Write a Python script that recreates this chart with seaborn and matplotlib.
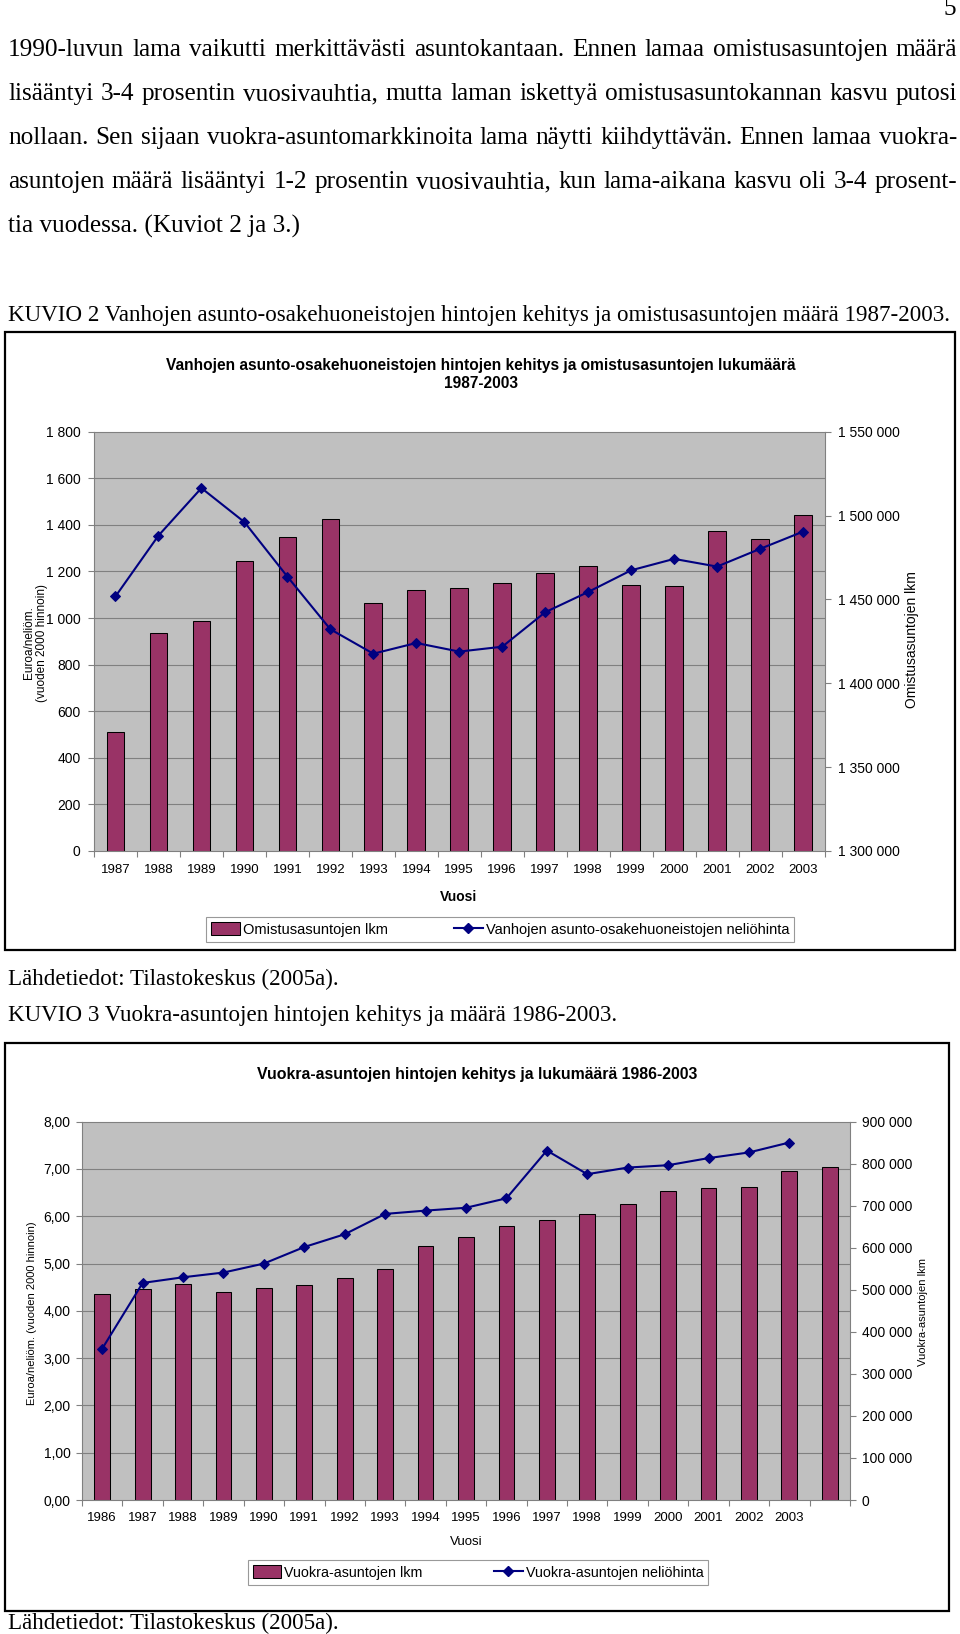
import matplotlib
matplotlib.use('Agg')
import matplotlib.pyplot as plt
import numpy as np
import seaborn as sns
from matplotlib.lines import Line2D
from matplotlib.patches import Patch, Rectangle

# Page text
page_no = '5'
body_lines = [
    '1990-luvun lama vaikutti merkittävästi asuntokantaan. Ennen lamaa omistusasuntojen määrä',
    'lisääntyi 3-4 prosentin vuosivauhtia, mutta laman iskettyä omistusasuntokannan kasvu putosi',
    'nollaan. Sen sijaan vuokra-asuntomarkkinoita lama näytti kiihdyttävän. Ennen lamaa vuokra-',
    'asuntojen määrä lisääntyi 1-2 prosentin vuosivauhtia, kun lama-aikana kasvu oli 3-4 prosent-',
]
body_last = 'tia vuodessa. (Kuviot 2 ja 3.)'
caption_2 = 'KUVIO 2 Vanhojen asunto-osakehuoneistojen hintojen kehitys ja omistusasuntojen määrä 1987-2003.'
caption_3 = 'KUVIO 3 Vuokra-asuntojen hintojen kehitys ja määrä 1986-2003.'
source = 'Lähdetiedot: Tilastokeskus (2005a).'

# KUVIO 2 data
title_2 = 'Vanhojen asunto-osakehuoneistojen hintojen kehitys ja omistusasuntojen lukumäärä\n1987-2003'
years_2 = ['1987', '1988', '1989', '1990', '1991', '1992', '1993', '1994', '1995',
           '1996', '1997', '1998', '1999', '2000', '2001', '2002', '2003']
owner_count = [1371000, 1430000, 1437000, 1473000, 1487500, 1498000, 1448000, 1455500, 1457000,
               1460000, 1465500, 1470000, 1458500, 1458000, 1491000, 1486000, 1500500]
owner_price = [1093, 1354, 1558, 1412, 1178, 952, 847, 893, 856,
               877, 1025, 1112, 1205, 1254, 1221, 1297, 1371]
owner_count_ticks = [1300000, 1350000, 1400000, 1450000, 1500000, 1550000]
owner_count_labels = ['1 300 000', '1 350 000', '1 400 000', '1 450 000', '1 500 000', '1 550 000']
owner_price_ticks = [0, 200, 400, 600, 800, 1000, 1200, 1400, 1600, 1800]
owner_price_labels = ['0', '200', '400', '600', '800', '1 000', '1 200', '1 400', '1 600', '1 800']
legend_2 = ['Omistusasuntojen lkm', 'Vanhojen asunto-osakehuoneistojen neliöhinta']

# KUVIO 3 data
title_3 = 'Vuokra-asuntojen hintojen kehitys ja lukumäärä 1986-2003'
years_3 = ['1986', '1987', '1988', '1989', '1990', '1991', '1992', '1993', '1994',
           '1995', '1996', '1997', '1998', '1999', '2000', '2001', '2002', '2003', '']
rental_count = [489000, 501000, 514000, 494000, 505000, 511500, 528000, 550000, 604000,
                625000, 652500, 666000, 680000, 705000, 734000, 741500, 744000, 782000, 793000]
rental_price = [3.20, 4.59, 4.71, 4.81, 5.00, 5.35, 5.62, 6.05, 6.12,
                6.18, 6.38, 7.39, 6.89, 7.03, 7.08, 7.23, 7.35, 7.56]
rental_count_ticks = [0, 100000, 200000, 300000, 400000, 500000, 600000, 700000, 800000, 900000]
rental_count_labels = ['0', '100 000', '200 000', '300 000', '400 000', '500 000',
                       '600 000', '700 000', '800 000', '900 000']
rental_price_ticks = [0, 1, 2, 3, 4, 5, 6, 7, 8]
rental_price_labels = ['0,00', '1,00', '2,00', '3,00', '4,00', '5,00', '6,00', '7,00', '8,00']
legend_3 = ['Vuokra-asuntojen lkm', 'Vuokra-asuntojen neliöhinta']

BAR = '#993366'
LINE = '#000080'
PLOT_BG = '#C0C0C0'
GRID = '#808080'
SERIF = 'Liberation Serif'
SANS = 'Liberation Sans'

plt.rcParams['font.family'] = [SANS, 'DejaVu Sans']

W, H = 960, 1634
fig = plt.figure(figsize=(W / 100, H / 100), dpi=100)
renderer = fig.canvas.get_renderer()


def fx(x):
    return x / W


def fy(y):
    return 1 - y / H


def width_of(t):
    return t.get_window_extent(renderer).width


def natural_width(text, size=16):
    t = fig.text(0, 0, text, fontsize=size, family=SERIF)
    w = width_of(t)
    t.remove()
    return w


# size the serif text from the original line widths
caption_fs = 16 * 943 / natural_width(caption_2)
body_fs = min(16 * 943 / natural_width(line) for line in body_lines)


def justify(line, y, x0=8, x1=957):
    words = line.split(' ')
    ts = [fig.text(0, fy(y), w, fontsize=body_fs, family=SERIF, va='center') for w in words]
    widths = [width_of(t) for t in ts]
    gap = (x1 - x0 - sum(widths)) / (len(words) - 1)
    x = x0
    for t, w in zip(ts, widths):
        t.set_x(fx(x))
        x += w + gap


def serif(text, x, y, size, ha='left'):
    fig.text(fx(x), fy(y), text, fontsize=size, family=SERIF, va='center', ha=ha)


serif(page_no, 956, 9, body_fs, ha='right')
for line, y in zip(body_lines, [50, 94, 138, 182]):
    justify(line, y)
serif(body_last, 8, 226, body_fs)
serif(caption_2, 8, 315, caption_fs)
serif(source, 8, 979, caption_fs)
serif(caption_3, 8, 1016, caption_fs)
serif(source, 8, 1623, caption_fs)


def frame(x0, y0, x1, y1):
    fig.patches.append(Rectangle((fx(x0), fy(y1)), (x1 - x0) / W, (y1 - y0) / H,
                                 transform=fig.transFigure, fill=False,
                                 edgecolor='black', lw=1.6))


def combo(box, cats, counts, prices, c_ticks, c_labels, p_ticks, p_labels,
          bar_w, ms, xpad, ypad):
    x0, y0, x1, y1 = box
    ax_bar = fig.add_axes([fx(x0), fy(y1), (x1 - x0) / W, (y1 - y0) / H])
    ax_bar.set_facecolor(PLOT_BG)
    sns.barplot(x=cats, y=counts, color=BAR, saturation=1, width=bar_w, errorbar=None,
                edgecolor='black', linewidth=0.75, ax=ax_bar)
    ax_line = ax_bar.twinx()
    sns.lineplot(x=np.arange(len(prices)), y=prices, color=LINE, linewidth=1.5,
                 marker='D', markersize=ms, markeredgecolor=LINE, markeredgewidth=0.75,
                 ax=ax_line)
    ax_bar.set_xlim(-0.5, len(cats) - 0.5)
    ax_bar.set_ylim(c_ticks[0], c_ticks[-1])
    ax_line.set_ylim(p_ticks[0], p_ticks[-1])

    # counts on the right, prices on the left
    ax_bar.yaxis.tick_right()
    ax_bar.set_yticks(c_ticks, c_labels)
    ax_line.yaxis.tick_left()
    ax_line.set_yticks(p_ticks, p_labels)

    # gridlines follow the price axis but sit under the bars
    lo, hi = c_ticks[0], c_ticks[-1]
    grid = [lo + (p - p_ticks[0]) / (p_ticks[-1] - p_ticks[0]) * (hi - lo) for p in p_ticks]
    ax_bar.set_yticks(grid, minor=True)
    ax_bar.grid(axis='y', which='minor', color=GRID, lw=0.8)
    ax_bar.set_axisbelow(True)

    # category labels, tick marks between categories
    ax_bar.set_xticks(np.arange(len(cats)), cats)
    ax_bar.set_xticks(np.arange(len(cats) + 1) - 0.5, minor=True)
    ax_bar.tick_params(axis='x', which='major', length=0, pad=xpad, labelsize=9.5)
    ax_bar.tick_params(axis='x', which='minor', length=4, color=GRID, width=0.8)
    ax_bar.tick_params(axis='y', which='minor', length=0)
    ax_bar.tick_params(axis='y', which='major', length=4, color=GRID, width=0.8,
                       pad=ypad, labelsize=10)
    ax_line.tick_params(axis='y', length=4, color=GRID, width=0.8, pad=ypad, labelsize=10)

    for s in ax_bar.spines.values():
        s.set_color(GRID)
        s.set_linewidth(0.8)
    for s in ax_line.spines.values():
        s.set_visible(False)
    ax_bar.set_xlabel('')
    ax_bar.set_ylabel('')
    ax_line.set_ylabel('')
    return ax_bar, ax_line


def legend(labels, cx, cy, spacing, fs):
    handles = [Patch(facecolor=BAR, edgecolor='black', lw=0.75),
               Line2D([], [], color=LINE, lw=1.5, marker='D', ms=5, mec=LINE)]
    leg = fig.legend(handles, labels, loc='center', bbox_to_anchor=(fx(cx), fy(cy)),
                     ncol=2, frameon=True, fancybox=False, edgecolor=GRID, fontsize=fs,
                     handlelength=2.0, handleheight=1.0, handletextpad=0.2,
                     columnspacing=spacing, borderpad=0.35)
    leg.get_frame().set_linewidth(0.8)


# KUVIO 2 chart
frame(5, 332, 955, 950)
fig.text(fx(481), fy(374.5), title_2, ha='center', va='center', fontsize=11.2,
         fontweight='bold', linespacing=1.2)
combo((94, 431.7, 824.5, 851), years_2, owner_count, owner_price,
      owner_count_ticks, owner_count_labels, owner_price_ticks, owner_price_labels,
      bar_w=0.41, ms=5.4, xpad=9.5, ypad=5.6)
fig.text(fx(35.5), fy(643), 'Euroa/neliöm.\n(vuoden 2000 hinnoin)', rotation=90,
         ha='center', va='center', fontsize=8.5, multialignment='center')
fig.text(fx(912), fy(640), 'Omistusasuntojen lkm', rotation=90, ha='center', va='center',
         fontsize=10)
fig.text(fx(459), fy(897), 'Vuosi', ha='center', va='center', fontsize=10, fontweight='bold')
legend(legend_2, 500, 929.5, 4.5, 10.5)

# KUVIO 3 chart
frame(5, 1043, 949, 1611)
fig.text(fx(477), fy(1075), title_3, ha='center', va='center', fontsize=11.4,
         fontweight='bold')
combo((82, 1121.7, 850, 1500), years_3, rental_count, rental_price,
      rental_count_ticks, rental_count_labels, rental_price_ticks, rental_price_labels,
      bar_w=0.39, ms=5.2, xpad=8.3, ypad=4.3)
fig.text(fx(32), fy(1313), 'Euroa/neliöm. (vuoden 2000 hinnoin)', rotation=90,
         ha='center', va='center', fontsize=8)
fig.text(fx(923), fy(1312), 'Vuokra-asuntojen lkm', rotation=90, ha='center', va='center',
         fontsize=8)
fig.text(fx(466), fy(1542), 'Vuosi', ha='center', va='center', fontsize=9.5)
legend(legend_3, 478, 1572.5, 5.0, 10.3)

fig.savefig('out.png', dpi=100, facecolor='white')
